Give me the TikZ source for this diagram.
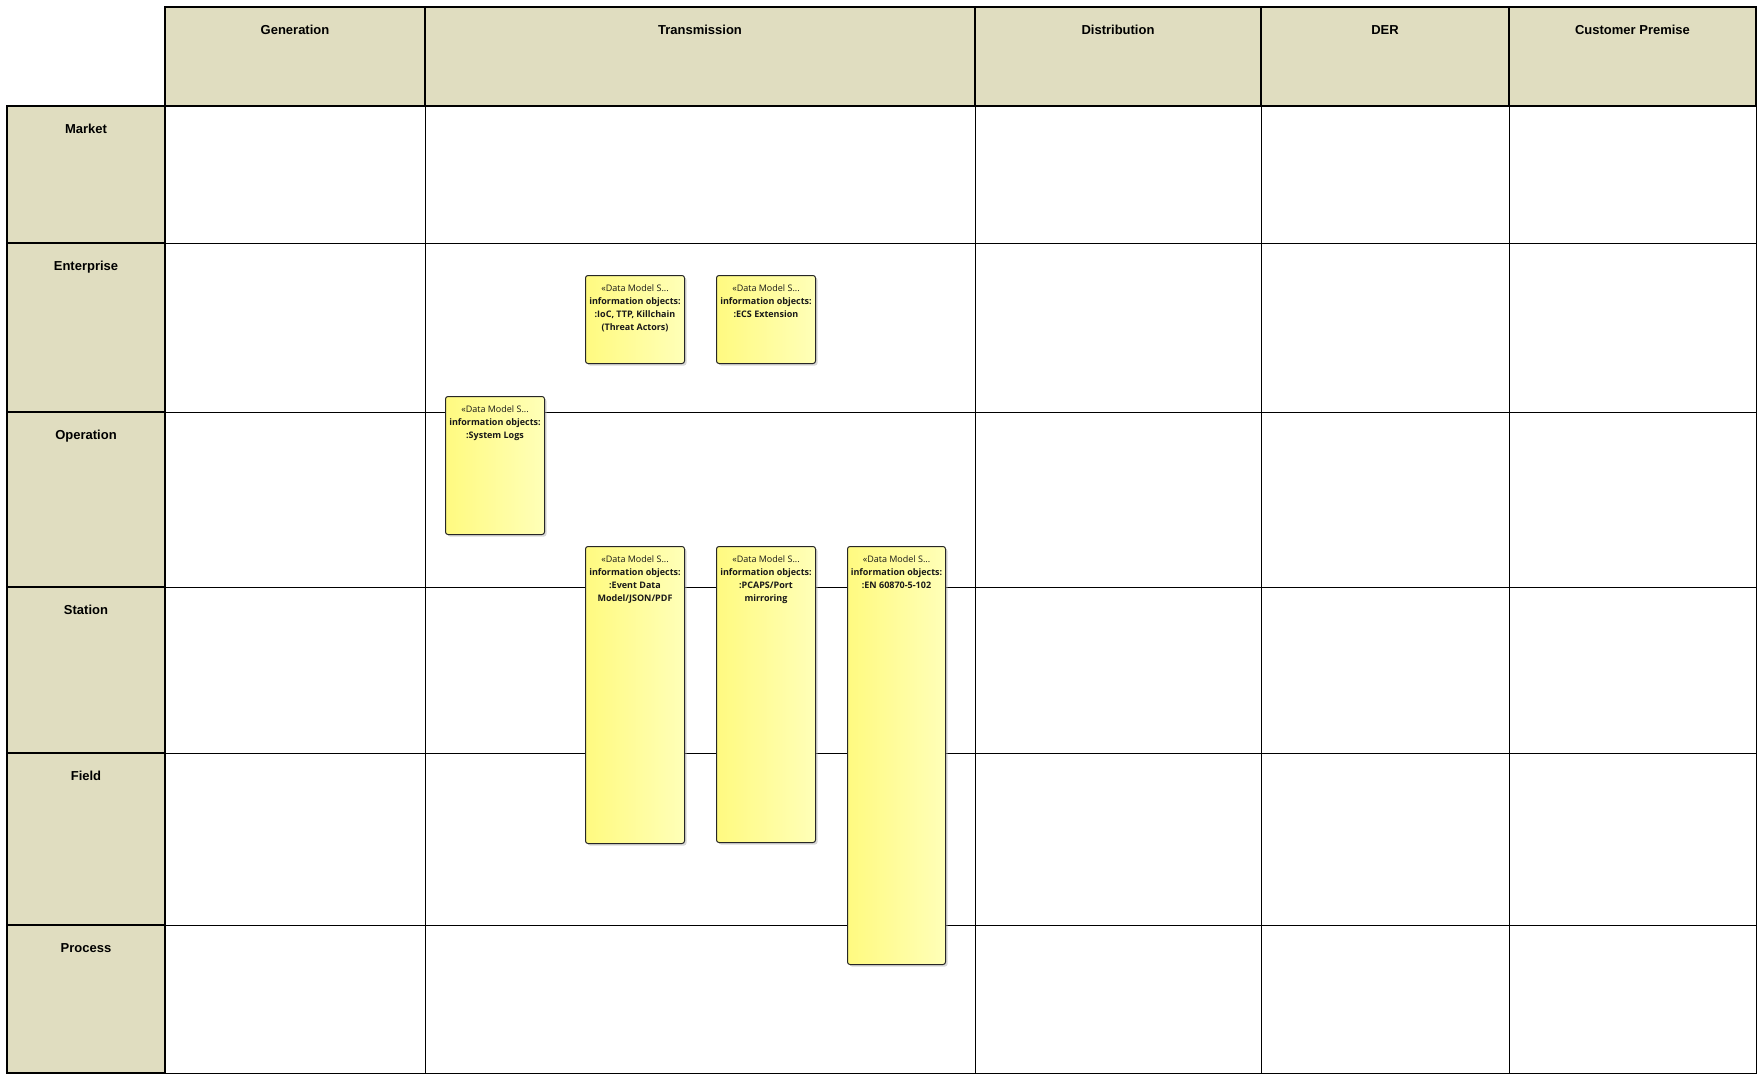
\documentclass[tikz,border=0pt]{standalone}
\usepackage{fontspec}
\setmainfont{Liberation Sans}
\newfontfamily\notefont{Open Sans}
\usetikzlibrary{positioning,shadows}

\definecolor{hdrfill}{RGB}{224,221,192}
\definecolor{noteleft}{RGB}{255,250,128}
\definecolor{noteright}{RGB}{255,255,184}

\begin{document}
\begin{tikzpicture}[x=1pt, y=-1pt,
    cell/.style={draw, line width=1.1pt, fill=hdrfill, inner sep=0pt,
      font=\fontsize{13}{15}\selectfont\bfseries, text height=27.5pt},
    grid/.style={line width=1.1pt},
    note/.style={draw=black!85, line width=1pt, rounded corners=2.5pt,
      left color=noteleft, right color=noteright, minimum width=99pt,
      inner sep=0pt, anchor=north west,
      drop shadow={shadow xshift=2pt, shadow yshift=-2pt, fill=black!30}},
    notetxt/.style={font=\notefont\fontsize{9}{13}\selectfont,
      align=center, inner sep=0pt, text=black!90}
  ]
  \useasboundingbox (0,0) rectangle (1762,1078);

  % domains
  \node[cell, minimum width=260pt, text depth=71.5pt] (gen) at (295,56.5) {Generation};
  \node[cell, minimum width=550pt, text depth=71.5pt] (trans) at (700,56.5) {Transmission};
  \node[cell, minimum width=286pt, text depth=71.5pt] (dist) at (1118,56.5) {Distribution};
  \node[cell, minimum width=248pt, text depth=71.5pt] (der) at (1385,56.5) {DER};
  \node[cell, minimum width=247pt, text depth=71.5pt] (cust) at (1632.5,56.5) {Customer Premise};

  % zones
  \node[cell, minimum width=158pt, text depth=109.5pt] (market) at (86,174.5) {Market};
  \node[cell, minimum width=158pt, text depth=141.5pt] (enter) at (86,327.5) {Enterprise};
  \node[cell, minimum width=158pt, text depth=147.5pt] (oper) at (86,499.5) {Operation};
  \node[cell, minimum width=158pt, text depth=138.5pt] (stat) at (86,670) {Station};
  \node[cell, minimum width=158pt, text depth=144.5pt] (field) at (86,839) {Field};
  \node[cell, minimum width=158pt, text depth=120.5pt] (proc) at (86,999) {Process};

  % grid
  \draw[grid] (gen.south east) -- (gen.south east |- proc.south);
  \draw[grid] (trans.south east) -- (trans.south east |- proc.south);
  \draw[grid] (dist.south east) -- (dist.south east |- proc.south);
  \draw[grid] (der.south east) -- (der.south east |- proc.south);
  \draw[grid] (cust.south east) -- (cust.south east |- proc.south);
  \draw[grid] (market.south east) -- (market.south -| cust.east);
  \draw[grid] (enter.south east) -- (enter.south -| cust.east);
  \draw[grid] (oper.south east) -- (oper.south -| cust.east);
  \draw[grid] (stat.south east) -- (stat.south -| cust.east);
  \draw[grid] (field.south east) -- (field.south -| cust.east);
  \draw[grid] (proc.south east) -- (proc.south -| cust.east);

  % data models
  \node[note, minimum height=88pt] (ioc) at (585,275) {};
  \node[notetxt, below=9pt of ioc.north] (ioctxt)
    {«Data Model S...\\\textbf{information objects:}\\\textbf{:IoC, TTP, Killchain}\\\textbf{(Threat Actors)}};
  \node[note, minimum height=88pt] (ecs) at (716,275) {};
  \node[notetxt, below=9pt of ecs.north] (ecstxt)
    {«Data Model S...\\\textbf{information objects:}\\\textbf{:ECS Extension}};
  \node[note, minimum height=138pt] (logs) at (445,396) {};
  \node[notetxt, below=9pt of logs.north] (logstxt)
    {«Data Model S...\\\textbf{information objects:}\\\textbf{:System Logs}};
  \node[note, minimum height=297pt] (event) at (585,546) {};
  \node[notetxt, below=9pt of event.north] (eventtxt)
    {«Data Model S...\\\textbf{information objects:}\\\textbf{:Event Data}\\\textbf{Model/JSON/PDF}};
  \node[note, minimum height=296pt] (pcap) at (716,546) {};
  \node[notetxt, below=9pt of pcap.north] (pcaptxt)
    {«Data Model S...\\\textbf{information objects:}\\\textbf{:PCAPS/Port}\\\textbf{mirroring}};
  \node[note, minimum height=418pt, minimum width=98pt] (iec) at (847,546) {};
  \node[notetxt, below=9pt of iec.north] (iectxt)
    {«Data Model S...\\\textbf{information objects:}\\\textbf{:EN 60870-5-102}};
\end{tikzpicture}
\end{document}
